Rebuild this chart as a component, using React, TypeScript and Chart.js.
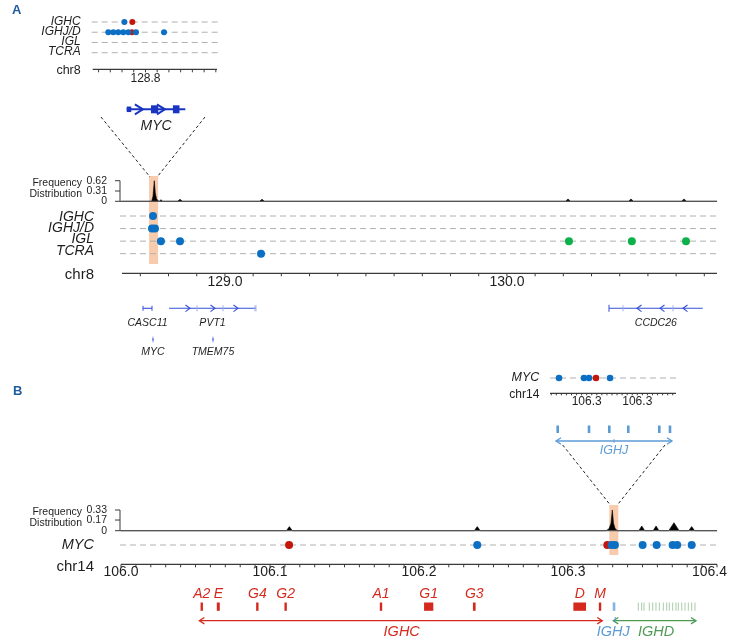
import React, { useEffect, useRef } from "react";
import { Chart, registerables } from "chart.js";

Chart.register(...registerables);

const W = 740;
const H = 642;
const FONT = '"Liberation Sans", Arial, Helvetica, sans-serif';
const DOT_BLUE = "#0B6FC4";
const DOT_RED = "#C4170C";
const DOT_GREEN = "#0DB14B";
const BAND = "#F7CBAC";
const GRID = "#B0B0B0";
const AXIS = "#3A3A3A";
const TEXT = "#1E1E1E";
const PANEL = "#1F5C9E";
const GENE_BLUE = "#3450D6";
const GENE_BLUE_LIGHT = "#A3B1EA";
const MYC_BLUE = "#1935C2";
const IGH_RED = "#D42A1E";
const IGHJ_BLUE = "#5B9BD5";
const IGHD_GREEN = "#4E9A55";
const IGHD_LIGHT = "#A9CBA9";

// ---------------- Panel A : MYC zoom inset ----------------
const aInsetRows = ["IGHC", "IGHJ/D", "IGL", "TCRA"];
const aInsetRange = [128.7455, 128.7561];
const aInsetTickStep = 0.001;
const aInsetLabelTicks = [128.75];
const aInsetBluePos = [128.7482, 128.74683, 128.74726, 128.74768, 128.74811, 128.74854, 128.74919, 128.75158];
const aInsetBlueRow = ["IGHC", "IGHJ/D", "IGHJ/D", "IGHJ/D", "IGHJ/D", "IGHJ/D", "IGHJ/D", "IGHJ/D"];
const aInsetRedPos = [128.74888, 128.74885];
const aInsetRedRow = ["IGHC", "IGHJ/D"];

const mycGeneSpan = [128.7484, 128.7534];
const mycExonStart = [128.7484, 128.75047, 128.75234];
const mycExonEnd = [128.74879, 128.75109, 128.7529];
const mycExonKind = ["utr", "cds", "cds"];
const mycStrandMarks = [128.74978, 128.75166];

// ---------------- Panel A : chr8 overview ----------------
const aRows = ["IGHC", "IGHJ/D", "IGL", "TCRA"];
const aRange = [128.635, 130.745];
const aAxisStep = 0.1;
const aAxisLabels = [129.0, 130.0];
const aFreqTicks = [0, 0.31, 0.62];
const aFreqPos = [
  128.635, 128.7403, 128.7449, 128.7495, 128.7531, 128.7573, 128.7637, 128.7673, 128.7733, 128.7793,
  128.8317, 128.8407, 128.8497, 129.1225, 129.1315, 129.1405, 130.2076, 130.2166, 130.2256,
  130.431, 130.44, 130.449, 130.6189, 130.6279, 130.6369, 130.745,
];
const aFreqVal = [
  0, 0, 0.15, 0.62, 0.25, 0.08, 0.01, 0, 0.05, 0,
  0, 0.06, 0, 0, 0.06, 0, 0, 0.07, 0,
  0, 0.07, 0, 0, 0.07, 0, 0,
];
const aHighlight = [128.731, 128.763];
const aBluePos = [128.745, 128.7414, 128.752, 128.773, 128.8407, 129.128];
const aBlueRow = ["IGHC", "IGHJ/D", "IGHJ/D", "IGL", "IGL", "TCRA"];
const aGreenPos = [130.22, 130.443, 130.635];
const aGreenRow = ["IGL", "IGL", "IGL"];

const aGeneNames = ["CASC11", "PVT1", "CCDC26"];
const aGeneStart = [128.7095, 128.8017, 130.362];
const aGeneEnd = [128.7414, 129.1102, 130.6945];
const aGeneStrand = [0, 1, -1];
const pvt1Exons = [128.901, 128.9932, 129.1066];
const pvt1Strand = [128.8761, 128.9648, 129.0464];
const ccdc26Exons = [130.4116, 130.5889];
const ccdc26Strand = [130.4613, 130.5428, 130.6244];
const aSmallGenes = ["MYC", "TMEM75"];
const aSmallGenePos = [128.745, 128.9577];

// ---------------- Panel B : IGHJ zoom inset ----------------
const bInsetRange = [106.328275, 106.330765];
const bInsetTickStep = 0.0001;
const bInsetLabelTicks = [106.329, 106.33];
const bInsetBluePos = [106.328453, 106.328947, 106.329046, 106.329461];
const bInsetRedPos = [106.329184];
const ighjSegPos = [106.328427, 106.329046, 106.329447, 106.329822, 106.330435, 106.330646];
const ighjSpan = [106.328394, 106.330686];

// ---------------- Panel B : chr14 overview ----------------
const bRange = [106.0, 106.4];
const bAxisStep = 0.01;
const bAxisLabels = [106.0, 106.1, 106.2, 106.3, 106.4];
const bFreqTicks = [0, 0.17, 0.33];
const bFreqPos = [
  106.0, 106.111, 106.113, 106.115, 106.2371, 106.2391, 106.2411,
  106.3255, 106.32752, 106.32886, 106.32973, 106.33054, 106.33154, 106.33309,
  106.3475, 106.3495, 106.3515, 106.3571, 106.3591, 106.3611,
  106.3676, 106.3711, 106.3746, 106.381, 106.383, 106.385, 106.4,
];
const bFreqVal = [
  0, 0, 0.065, 0, 0, 0.065, 0,
  0, 0.03, 0.12, 0.33, 0.12, 0.04, 0,
  0, 0.075, 0, 0, 0.075, 0,
  0, 0.128, 0, 0, 0.065, 0, 0,
];
const bHighlight = [106.32772, 106.33376];
const bBluePos = [106.2391, 106.3293, 106.3315, 106.3501, 106.3595, 106.3702, 106.3733, 106.383];
const bRedPos = [106.1128, 106.3264];

const ighcSegNames = ["A2", "E", "G4", "G2", "A1", "G1", "G3", "D", "M"];
const ighcSegStart = [106.0534, 106.0643, 106.0907, 106.1097, 106.1737, 106.2034, 106.2362, 106.3036, 106.3207];
const ighcSegEnd = [106.055, 106.0663, 106.0923, 106.1113, 106.1753, 106.2096, 106.238, 106.3121, 106.3223];
const ighcSpan = [106.0526, 106.323];
const ighcLabelPos = 106.1884;
const ighjMainPos = [106.3307, 106.3311];
const ighjLabelPos = 106.3304;
const ighdLines = [
  106.34718, 106.34946, 106.35101, 106.35456, 106.35685, 106.35906, 106.36128, 106.36396, 106.36624,
  106.36799, 106.37027, 106.37248, 106.37403, 106.37631, 106.37852, 106.38074, 106.38302, 106.38523,
];
const ighdSpan = [106.3304, 106.3859];
const ighdLabelPos = 106.3591;

// ---------------- helpers ----------------
function rowValue(rows: string[], name: string) {
  return rows.length - rows.indexOf(name);
}

function txt(ctx: any, s: string, x: number, y: number, size: number, o: any = {}) {
  ctx.save();
  ctx.font = `${o.italic ? "italic " : ""}${o.bold ? "bold " : ""}${size}px ${FONT}`;
  ctx.fillStyle = o.color || TEXT;
  ctx.textAlign = o.align || "center";
  ctx.textBaseline = o.baseline || "middle";
  if (o.clampRight !== undefined) {
    const w = ctx.measureText(s).width;
    if (x + w / 2 > o.clampRight) x = o.clampRight - w / 2;
  }
  ctx.fillText(s, x, y);
  ctx.restore();
}

function seg(ctx: any, x0: number, y0: number, x1: number, y1: number, color: string, width: number, dash: number[] = []) {
  ctx.save();
  ctx.strokeStyle = color;
  ctx.lineWidth = width;
  ctx.setLineDash(dash);
  ctx.beginPath();
  ctx.moveTo(x0, y0);
  ctx.lineTo(x1, y1);
  ctx.stroke();
  ctx.restore();
}

function chevron(ctx: any, x: number, y: number, dir: number, len: number, half: number, color: string, width: number) {
  ctx.save();
  ctx.strokeStyle = color;
  ctx.lineWidth = width;
  ctx.beginPath();
  ctx.moveTo(x - dir * len, y - half);
  ctx.lineTo(x, y);
  ctx.lineTo(x - dir * len, y + half);
  ctx.stroke();
  ctx.restore();
}

function ticksOf(min: number, max: number, step: number) {
  const out: number[] = [];
  const i0 = Math.ceil(min / step - 1e-6);
  const i1 = Math.floor(max / step + 1e-6);
  for (let i = i0; i <= i1; i++) out.push(i * step);
  return out;
}

function xAxis(ctx: any, xs: any, y: number, range: number[], step: number, tickLen: number) {
  const x0 = xs.getPixelForValue(range[0]);
  const x1 = xs.getPixelForValue(range[1]);
  seg(ctx, x0, y, x1, y, AXIS, 1.2);
  ticksOf(range[0], range[1], step).forEach((v) => {
    const px = xs.getPixelForValue(v);
    seg(ctx, px, y, px, y + tickLen, AXIS, 1);
  });
}

function freqAxis(ctx: any, ys: any, ticks: number[], x: number, top: number, fy: number) {
  const yTop = ys.getPixelForValue(ticks[ticks.length - 1]);
  const yBot = ys.getPixelForValue(0);
  seg(ctx, x, yTop, x, yBot, AXIS, 1);
  ticks.forEach((t) => {
    const py = ys.getPixelForValue(t);
    seg(ctx, x - 5, py, x, py, AXIS, 1);
    txt(ctx, t === 0 ? "0" : String(t), x - 13, py, 10.5, { align: "right" });
  });
  txt(ctx, "Frequency", 82, fy, 10.5, { align: "right" });
  txt(ctx, "Distribution", 82, fy + 11.6, 10.5, { align: "right" });
}

function dots(pos: number[], ys: number[] | null, rows: string[] | null, rowNames: string[] | null, color: string, r: number, constY = 1) {
  return {
    type: "scatter",
    data: pos.map((p, i) => ({ x: p, y: rows && rowNames ? rowValue(rows, rowNames[i]) : constY })),
    backgroundColor: color,
    borderWidth: 0,
    pointRadius: r,
    pointHoverRadius: r,
    clip: false,
  };
}

function freqSet(pos: number[], val: number[]) {
  return {
    type: "line",
    data: pos.map((p, i) => ({ x: p, y: val[i] })),
    fill: "origin",
    backgroundColor: "#000000",
    borderColor: "#000000",
    borderWidth: 0.6,
    pointRadius: 0,
    tension: 0,
    clip: false,
  };
}

interface LayerSpec {
  area: number[];
  xRange: number[];
  yRange: number[];
  datasets: any[];
  before?: (c: any) => void;
  after?: (c: any) => void;
}

function Layer(props: { spec: LayerSpec }) {
  const ref = useRef<HTMLCanvasElement | null>(null);
  useEffect(() => {
    const s = props.spec;
    const [l, t, r, b] = s.area;
    const chart = new Chart(ref.current as HTMLCanvasElement, {
      type: "scatter",
      data: { datasets: s.datasets as any },
      options: {
        responsive: false,
        maintainAspectRatio: false,
        animation: false,
        devicePixelRatio: 1,
        events: [],
        layout: { padding: { left: l, top: t, right: W - r, bottom: H - b } },
        scales: {
          x: { type: "linear", display: false, min: s.xRange[0], max: s.xRange[1] },
          y: { type: "linear", display: false, min: s.yRange[0], max: s.yRange[1] },
        },
        plugins: { legend: { display: false }, tooltip: { enabled: false } },
      } as any,
      plugins: [
        {
          id: "decor",
          beforeDatasetsDraw: (c: any) => {
            if (s.before) s.before(c);
          },
          afterDatasetsDraw: (c: any) => {
            if (s.after) s.after(c);
          },
        },
      ],
    });
    return () => chart.destroy();
  }, []);
  return (
    <canvas
      ref={ref}
      width={W}
      height={H}
      style={{ position: "absolute", left: 0, top: 0, width: W, height: H }}
    />
  );
}

// ---------------- layer specs ----------------
const aInsetSpec: LayerSpec = {
  area: [92.7, 22, 217, 52.7],
  xRange: aInsetRange,
  yRange: [1, 4],
  datasets: [
    dots(aInsetBluePos, null, aInsetRows, aInsetBlueRow, DOT_BLUE, 3),
    dots(aInsetRedPos, null, aInsetRows, aInsetRedRow, DOT_RED, 3),
  ],
  before: (c) => {
    const ctx = c.ctx;
    const xs = c.scales.x;
    const ys = c.scales.y;
    txt(ctx, "A", 12, 14, 13, { bold: true, color: PANEL, align: "left", baseline: "alphabetic" });
    aInsetRows.forEach((r) => {
      const y = ys.getPixelForValue(rowValue(aInsetRows, r));
      seg(ctx, 91.7, y, 218, y, GRID, 1, [6, 4]);
      txt(ctx, r, 80.7, y - 0.8, 12, { italic: true, align: "right" });
    });
    const ay = 69.3;
    xAxis(ctx, xs, ay, aInsetRange, aInsetTickStep, 3);
    aInsetLabelTicks.forEach((v) => txt(ctx, v.toFixed(1), xs.getPixelForValue(v), 78.5, 12));
    txt(ctx, "chr8", 80.7, 71, 12.5, { align: "right" });
    // MYC gene model
    const gy = 109.3;
    seg(ctx, xs.getPixelForValue(mycGeneSpan[0]), gy, xs.getPixelForValue(mycGeneSpan[1]), gy, MYC_BLUE, 2);
    ctx.save();
    ctx.fillStyle = MYC_BLUE;
    mycExonStart.forEach((s, i) => {
      const x0 = xs.getPixelForValue(s);
      const x1 = xs.getPixelForValue(mycExonEnd[i]);
      const h = mycExonKind[i] === "cds" ? 8 : 5.5;
      ctx.fillRect(x0, gy - h / 2, x1 - x0, h);
    });
    ctx.restore();
    mycStrandMarks.forEach((v) => chevron(ctx, xs.getPixelForValue(v), gy, 1, 8, 5, MYC_BLUE, 2));
    const mid = (xs.getPixelForValue(mycGeneSpan[0]) + xs.getPixelForValue(mycGeneSpan[1])) / 2;
    txt(ctx, "MYC", mid, 126.5, 14, { italic: true });
  },
};

const aFreqSpec: LayerSpec = {
  area: [122, 180.7, 717, 201.3],
  xRange: aRange,
  yRange: [0, 0.62],
  datasets: [freqSet(aFreqPos, aFreqVal)],
  before: (c) => {
    const ctx = c.ctx;
    const xs = c.scales.x;
    const ys = c.scales.y;
    const bl = xs.getPixelForValue(aHighlight[0]);
    const br = xs.getPixelForValue(aHighlight[1]);
    ctx.save();
    ctx.fillStyle = BAND;
    ctx.fillRect(bl, 176, br - bl, 88);
    ctx.restore();
    seg(ctx, 101, 117, bl + 1, 177, "#222", 1, [3, 2.5]);
    seg(ctx, 205, 117, br - 1, 177, "#222", 1, [3, 2.5]);
    freqAxis(ctx, ys, aFreqTicks, 120, 180.7, 182.7);
  },
  after: (c) => {
    const y0 = c.scales.y.getPixelForValue(0);
    seg(c.ctx, 120, y0, 717, y0, "#555", 1.3);
  },
};

const aRowsSpec: LayerSpec = {
  area: [122, 216, 717, 253.7],
  xRange: aRange,
  yRange: [1, 4],
  datasets: [
    dots(aBluePos, null, aRows, aBlueRow, DOT_BLUE, 4),
    dots(aGreenPos, null, aRows, aGreenRow, DOT_GREEN, 4),
  ],
  before: (c) => {
    const ctx = c.ctx;
    const xs = c.scales.x;
    const ys = c.scales.y;
    aRows.forEach((r, i) => {
      const y = ys.getPixelForValue(rowValue(aRows, r));
      seg(ctx, 120, y, 717, y, GRID, 1, [6, 4]);
      txt(ctx, r, 94, y + 1 - i * 1.3, 14, { italic: true, align: "right" });
    });
    const ay = 273.3;
    xAxis(ctx, xs, ay, aRange, aAxisStep, 3);
    aAxisLabels.forEach((v) => txt(ctx, v.toFixed(1), xs.getPixelForValue(v), 282, 14));
    txt(ctx, "chr8", 94, 275, 15, { align: "right" });

    // gene track
    const gy = 308.3;
    aGeneNames.forEach((g, i) => {
      const x0 = xs.getPixelForValue(aGeneStart[i]);
      const x1 = xs.getPixelForValue(aGeneEnd[i]);
      seg(ctx, x0, gy, x1, gy, GENE_BLUE, 1.1);
      if (aGeneStrand[i] === 0) {
        seg(ctx, x0, gy - 2.5, x0, gy + 2.5, GENE_BLUE, 1);
        seg(ctx, x1, gy - 2.5, x1, gy + 2.5, GENE_BLUE, 1);
      } else if (aGeneStrand[i] === 1) {
        seg(ctx, x1, gy - 3, x1, gy + 3, GENE_BLUE_LIGHT, 1);
      } else {
        seg(ctx, x0, gy - 3.5, x0, gy + 3.5, GENE_BLUE, 1);
      }
      txt(ctx, g, (x0 + x1) / 2, 323.5, 10.5, { italic: true });
    });
    pvt1Exons.forEach((v) => {
      const px = xs.getPixelForValue(v);
      seg(ctx, px, gy - 3, px, gy + 3, GENE_BLUE_LIGHT, 1);
    });
    pvt1Strand.forEach((v) => chevron(ctx, xs.getPixelForValue(v), gy, 1, 4.5, 3.3, GENE_BLUE, 1.1));
    ccdc26Exons.forEach((v) => {
      const px = xs.getPixelForValue(v);
      seg(ctx, px, gy - 3, px, gy + 3, GENE_BLUE_LIGHT, 1);
    });
    ccdc26Strand.forEach((v) => chevron(ctx, xs.getPixelForValue(v), gy, -1, 4.5, 3.3, GENE_BLUE, 1.1));
    aSmallGenes.forEach((g, i) => {
      const px = xs.getPixelForValue(aSmallGenePos[i]);
      seg(ctx, px, 336.5, px, 342.5, GENE_BLUE_LIGHT, 1.2);
      seg(ctx, px, 338.5, px, 340.5, GENE_BLUE, 1.2);
      txt(ctx, g, px, 352, 10.5, { italic: true });
    });
  },
};

const bInsetSpec: LayerSpec = {
  area: [550, 373, 676, 383],
  xRange: bInsetRange,
  yRange: [0, 2],
  datasets: [
    dots(bInsetBluePos, null, null, null, DOT_BLUE, 3.3),
    dots(bInsetRedPos, null, null, null, DOT_RED, 3.3),
  ],
  before: (c) => {
    const ctx = c.ctx;
    const xs = c.scales.x;
    const ys = c.scales.y;
    txt(ctx, "B", 13, 395, 13, { bold: true, color: PANEL, align: "left", baseline: "alphabetic" });
    const ry = ys.getPixelForValue(1);
    seg(ctx, 550, ry, 677, ry, GRID, 1, [6, 4]);
    txt(ctx, "MYC", 539.3, ry, 12.5, { italic: true, align: "right" });
    const ay = 393.3;
    xAxis(ctx, xs, ay, bInsetRange, bInsetTickStep, 2);
    bInsetLabelTicks.forEach((v) => txt(ctx, v.toFixed(1), xs.getPixelForValue(v), 401.5, 12));
    txt(ctx, "chr14", 539.3, 395, 12, { align: "right" });
    // IGHJ segments
    ctx.save();
    ctx.fillStyle = IGHJ_BLUE;
    ighjSegPos.forEach((v) => {
      const px = xs.getPixelForValue(v);
      ctx.fillRect(px - 1.3, 425.5, 2.6, 7.5);
    });
    ctx.restore();
    const a0 = xs.getPixelForValue(ighjSpan[0]);
    const a1 = xs.getPixelForValue(ighjSpan[1]);
    seg(ctx, a0, 441, a1, 441, IGHJ_BLUE, 1.3);
    chevron(ctx, a0, 441, -1, 5, 3.2, IGHJ_BLUE, 1.3);
    chevron(ctx, a1, 441, 1, 5, 3.2, IGHJ_BLUE, 1.3);
    seg(ctx, (a0 + a1) / 2, 439, (a0 + a1) / 2, 443, IGHJ_BLUE, 0.8);
    txt(ctx, "IGHJ", (a0 + a1) / 2, 451, 12.5, { italic: true, color: IGHJ_BLUE });
  },
};

const bFreqSpec: LayerSpec = {
  area: [121, 510, 717, 530.7],
  xRange: bRange,
  yRange: [0, 0.33],
  datasets: [freqSet(bFreqPos, bFreqVal)],
  before: (c) => {
    const ctx = c.ctx;
    const xs = c.scales.x;
    const ys = c.scales.y;
    const bl = xs.getPixelForValue(bHighlight[0]);
    const br = xs.getPixelForValue(bHighlight[1]);
    ctx.save();
    ctx.fillStyle = BAND;
    ctx.fillRect(bl, 505, br - bl, 50);
    ctx.restore();
    seg(ctx, 562.7, 445, bl + 1, 505, "#222", 1, [3, 2.5]);
    seg(ctx, 665, 445, br - 1, 505, "#222", 1, [3, 2.5]);
    freqAxis(ctx, ys, bFreqTicks, 120, 510, 511.7);
  },
  after: (c) => {
    const y0 = c.scales.y.getPixelForValue(0);
    seg(c.ctx, 120, y0, 717, y0, "#555", 1.3);
  },
};

const bRowsSpec: LayerSpec = {
  area: [121, 535, 717, 555],
  xRange: bRange,
  yRange: [0, 2],
  datasets: [dots(bBluePos, null, null, null, DOT_BLUE, 4), dots(bRedPos, null, null, null, DOT_RED, 4)],
  before: (c) => {
    const ctx = c.ctx;
    const xs = c.scales.x;
    const ys = c.scales.y;
    const ry = ys.getPixelForValue(1);
    seg(ctx, 120, ry, 717, ry, GRID, 1, [6, 4]);
    txt(ctx, "MYC", 94, ry, 14.5, { italic: true, align: "right" });
    const ay = 564.3;
    xAxis(ctx, xs, ay, bRange, bAxisStep, 3);
    bAxisLabels.forEach((v) => txt(ctx, v.toFixed(1), xs.getPixelForValue(v), 572.5, 14, { clampRight: 727 }));
    txt(ctx, "chr14", 94, 566.7, 15, { align: "right" });

    // IGHC constant segments
    ctx.save();
    ctx.fillStyle = IGH_RED;
    ighcSegNames.forEach((n, i) => {
      const x0 = xs.getPixelForValue(ighcSegStart[i]);
      const x1 = xs.getPixelForValue(ighcSegEnd[i]);
      ctx.fillRect(x0, 602.5, x1 - x0, 8.3);
      txt(ctx, n, (x0 + x1) / 2, 594, 14, { italic: true, color: IGH_RED });
    });
    ctx.restore();
    const c0 = xs.getPixelForValue(ighcSpan[0]);
    const c1 = xs.getPixelForValue(ighcSpan[1]);
    seg(ctx, c0, 620.7, c1, 620.7, IGH_RED, 1.3);
    chevron(ctx, c0, 620.7, -1, 5, 3.2, IGH_RED, 1.3);
    chevron(ctx, c1, 620.7, 1, 5, 3.2, IGH_RED, 1.3);
    txt(ctx, "IGHC", xs.getPixelForValue(ighcLabelPos), 631.7, 14.5, { italic: true, color: IGH_RED });

    // IGHJ
    ctx.save();
    ctx.fillStyle = "#A9C9EA";
    const j0 = xs.getPixelForValue(ighjMainPos[0]);
    const j1 = xs.getPixelForValue(ighjMainPos[1]);
    ctx.fillRect(j0 - 0.5, 602.5, j1 - j0 + 1, 8.3);
    ctx.restore();
    seg(ctx, j0 - 0.5, 602.5, j0 - 0.5, 610.8, IGHJ_BLUE, 0.8);
    seg(ctx, j1 + 0.5, 602.5, j1 + 0.5, 610.8, IGHJ_BLUE, 0.8);
    txt(ctx, "IGHJ", xs.getPixelForValue(ighjLabelPos), 631.7, 14.5, { italic: true, color: IGHJ_BLUE });

    // IGHD
    ighdLines.forEach((v) => {
      const px = xs.getPixelForValue(v);
      seg(ctx, px, 602.5, px, 610.8, IGHD_LIGHT, 1);
    });
    const d0 = xs.getPixelForValue(ighdSpan[0]);
    const d1 = xs.getPixelForValue(ighdSpan[1]);
    seg(ctx, d0, 620.7, d1, 620.7, IGHD_GREEN, 1.3);
    chevron(ctx, d0, 620.7, -1, 5, 3.2, IGHD_GREEN, 1.3);
    chevron(ctx, d1, 620.7, 1, 5, 3.2, IGHD_GREEN, 1.3);
    seg(ctx, d0 + 2, 617, d0 + 2, 622.5, IGHJ_BLUE, 1);
    txt(ctx, "IGHD", xs.getPixelForValue(ighdLabelPos), 631.7, 14.5, { italic: true, color: IGHD_GREEN });
  },
};

export default function App() {
  return (
    <div style={{ position: "absolute", left: 0, top: 0, width: W, height: H, background: "#ffffff" }}>
      <Layer spec={aFreqSpec} />
      <Layer spec={aRowsSpec} />
      <Layer spec={aInsetSpec} />
      <Layer spec={bFreqSpec} />
      <Layer spec={bRowsSpec} />
      <Layer spec={bInsetSpec} />
    </div>
  );
}
